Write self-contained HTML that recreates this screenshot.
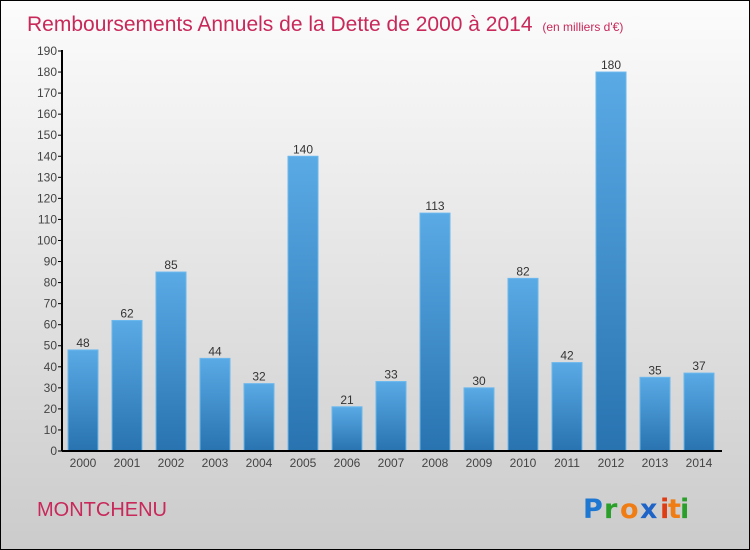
<!DOCTYPE html>
<html><head><meta charset="utf-8"><style>
body{margin:0}
#wrap{width:750px;height:550px;position:relative;box-sizing:border-box;border:1px solid #000;background:linear-gradient(#fcfcfc,#cbcbcb);font-family:"Liberation Sans",sans-serif;overflow:hidden}
svg{position:absolute;left:0;top:0}
</style></head><body>
<div id="wrap">
<svg id="c" width="750" height="550">
<defs><linearGradient id="g" x1="0" y1="0" x2="0" y2="1"><stop offset="0" stop-color="#5aaae6"/><stop offset="1" stop-color="#2873b0"/></linearGradient></defs>
<text x="26" y="30" font-size="21" fill="#c8285a">Remboursements Annuels de la Dette de 2000 à 2014 <tspan font-size="12" dx="4">(en milliers d'€)</tspan></text>
<text x="36" y="515" font-size="20" fill="#c8285a">MONTCHENU</text>
<g font-size="27" font-weight="bold" font-family="'DejaVu Sans',sans-serif">
<text x="582" y="517" fill="#1e78d2">P</text><text x="603" y="517" fill="#2aa02a">r</text><text x="619" y="517" fill="#f07d14">o</text><text x="639" y="517" fill="#1e64c8">x</text><text x="659" y="517" fill="#e03c14">i</text><text x="667" y="517" fill="#f07d14">t</text><text x="679" y="517" fill="#2aa02a">i</text>
</g>
</svg>
</div>
<script>
const years=["2000","2001","2002","2003","2004","2005","2006","2007","2008","2009","2010","2011","2012","2013","2014"];
const values=[48,62,85,44,32,140,21,33,113,30,82,42,180,35,37];
const yTicks=[0,10,20,30,40,50,60,70,80,90,100,110,120,130,140,150,160,170,180,190];
const svg=document.getElementById('c');const NS='http://www.w3.org/2000/svg';
const y0=450,ppu=400/190,x0=61,step=44,bw=30;
const yS=v=>y0-v*ppu, xS=i=>x0+6+i*step;
function mk(t,a){const e=document.createElementNS(NS,t);for(const k in a)e.setAttribute(k,a[k]);svg.appendChild(e);return e;}
yTicks.forEach(t=>{
 const l=mk('line',{x1:x0-4,x2:x0,y1:yS(t),y2:yS(t),stroke:'#000'});
 
 
 const tx=mk('text',{x:x0-5,y:yS(t)+4,'font-size':12,'text-anchor':'end',fill:'#444'});tx.textContent=t;
 
 
});
values.forEach((v,i)=>{
 const r=mk('rect',{x:xS(i),y:yS(v),width:bw,height:v*ppu,fill:'url(#g)',stroke:'#6bb8ee','stroke-width':1});
 
 
 const t=mk('text',{x:xS(i)+bw/2,y:yS(v)-3,'font-size':12,'text-anchor':'middle',fill:'#333'});t.textContent=v;
 
 
 const xl=mk('text',{x:xS(i)+bw/2,y:466,'font-size':12,'text-anchor':'middle',fill:'#444'});xl.textContent=years[i];
 
 
});
const ya=mk('line',{x1:x0,x2:x0,y1:yS(190)-1,y2:y0,stroke:'#000','stroke-width':2});


const xa=mk('line',{x1:x0,x2:721,y1:y0,y2:y0,stroke:'#000','stroke-width':2});


</script>
</body></html>
